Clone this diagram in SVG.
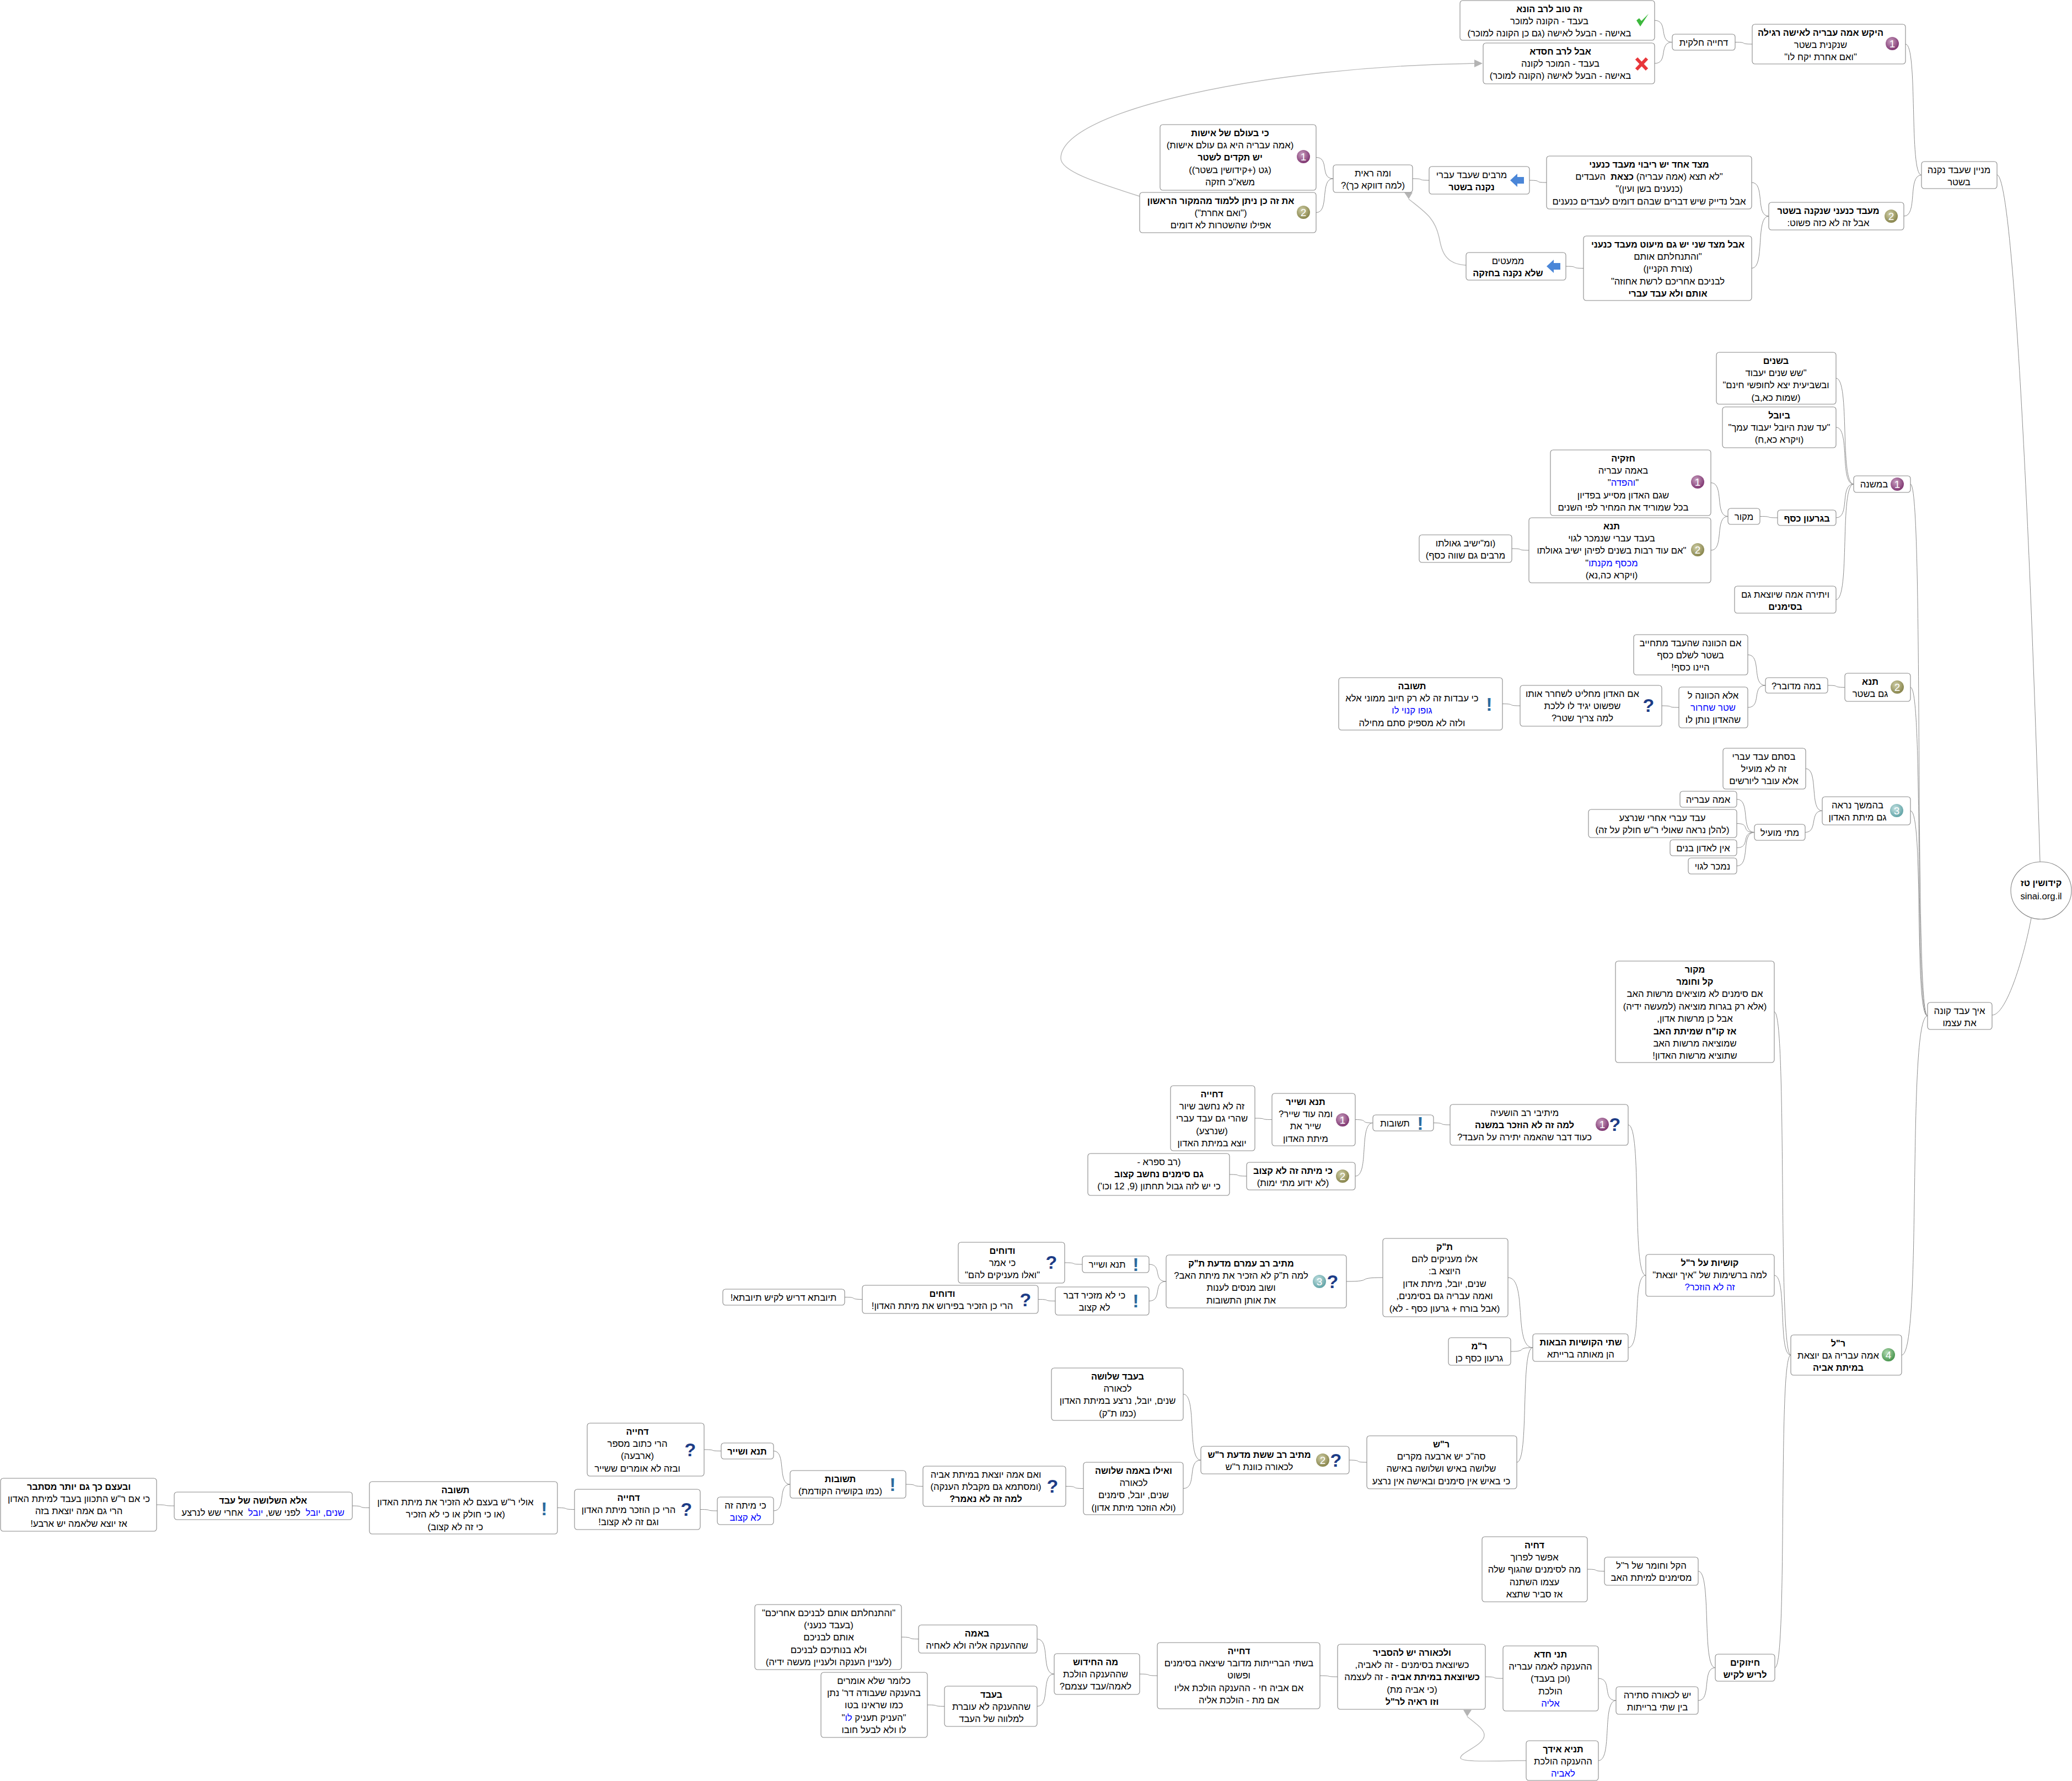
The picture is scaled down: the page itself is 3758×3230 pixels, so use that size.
<svg xmlns="http://www.w3.org/2000/svg" width="3758" height="3230" viewBox="0 0 3758 3230">
<style>
text{font-family:"Liberation Sans",Arial,sans-serif;font-size:16.7px;direction:rtl;unicode-bidi:embed;text-anchor:middle;fill:#000}
.b{font-weight:700;font-size:16.3px}
.l{fill:#00f}
rect{fill:#fff;stroke:#888;stroke-width:1.1}
#connectors path{fill:none;stroke:#8c8c8c;stroke-width:1}
#connectors path.x{stroke:#b8b8b8;stroke-width:1.4}
#connectors polygon{fill:#b4b4b4}
.q{font-size:34px;font-weight:700;fill:#1d3c86}
.e{font-size:34px;font-weight:700;fill:#2c6b9e}
.n{font-size:19px;fill:#fff;direction:ltr}
.ar{fill:#4a86d8}
</style>
<defs>
<radialGradient id="g1" cx=".4" cy=".35" r=".7"><stop offset="0" stop-color="#c9a0c0"/><stop offset="1" stop-color="#7a2f6c"/></radialGradient>
<radialGradient id="g2" cx=".4" cy=".35" r=".7"><stop offset="0" stop-color="#d0cfa8"/><stop offset="1" stop-color="#827f45"/></radialGradient>
<radialGradient id="g3" cx=".4" cy=".35" r=".7"><stop offset="0" stop-color="#c5e2e2"/><stop offset="1" stop-color="#5a9fa2"/></radialGradient>
<radialGradient id="g4" cx=".4" cy=".35" r=".7"><stop offset="0" stop-color="#b5dcb5"/><stop offset="1" stop-color="#3f8f45"/></radialGradient>
</defs>
<rect x="0" y="0" width="3758" height="3230" style="fill:#fff;stroke:none"/>
<g id="connectors">
<path d="M3001 37C3026.6 37 3007.4 76.5 3033 76.5"/>
<path d="M3001 115C3026.6 115 3007.4 76.5 3033 76.5"/>
<path d="M3147 76.5C3172 76.5 3153 80 3178 80"/>
<path d="M3456 80C3479 80 3462 317.5 3485 317.5"/>
<path d="M3453 392C3479 392 3459 317.5 3485 317.5"/>
<path d="M3177 331C3202 331 3183 392 3208 392"/>
<path d="M3177 486.5C3202 486.5 3183 392 3208 392"/>
<path d="M2774 327C2799 327 2780 331 2805 331"/>
<path d="M2840 483C2866 483 2846 486.5 2872 486.5"/>
<path d="M2562 324C2586 324 2568 327 2592 327"/>
<path d="M2387 285.5C2412 285.5 2393 324 2418 324"/>
<path d="M2387 385.5C2412 385.5 2393 324 2418 324"/>
<path d="M3622 317C3650 320 3680 900 3700 1563"/>
<path d="M3613 1841C3640 1841 3672 1730 3684 1665"/>
<path d="M3465 878C3490 878 3471 1842.5 3496 1842.5"/>
<path d="M3465 1246.5C3490 1246.5 3471 1842.5 3496 1842.5"/>
<path d="M3465 1470.5C3490 1470.5 3471 1842.5 3496 1842.5"/>
<path d="M3449 2457.5C3487 2457.5 3458 1842.5 3496 1842.5"/>
<path d="M3330 686C3356 686 3336 878 3362 878"/>
<path d="M3330 775C3356 775 3336 878 3362 878"/>
<path d="M3330 939C3356 939 3336 878 3362 878"/>
<path d="M3330 1087.5C3356 1087.5 3336 878 3362 878"/>
<path d="M3192 936.5C3218 936.5 3198 939 3224 939"/>
<path d="M3103 875.5C3128 875.5 3109 936.5 3134 936.5"/>
<path d="M3103 998C3128 998 3109 936.5 3134 936.5"/>
<path d="M2742 995C2767 995 2748 998 2773 998"/>
<path d="M3315 1243C3340 1243 3321 1246.5 3346 1246.5"/>
<path d="M3170 1187.5C3196 1187.5 3176 1243 3202 1243"/>
<path d="M3170 1283C3196 1283 3176 1243 3202 1243"/>
<path d="M3014 1280C3039 1280 3020 1283 3045 1283"/>
<path d="M2725 1276.5C2751 1276.5 2731 1280 2757 1280"/>
<path d="M3275 1394C3299 1394 3281 1470.5 3305 1470.5"/>
<path d="M3274 1509.5C3298 1509.5 3281 1470.5 3305 1470.5"/>
<path d="M3150 1449.5C3176 1449.5 3156 1509.5 3182 1509.5"/>
<path d="M3150 1493.5C3176 1493.5 3156 1509.5 3182 1509.5"/>
<path d="M3150 1537.5C3176 1537.5 3156 1509.5 3182 1509.5"/>
<path d="M3150 1570.5C3176 1570.5 3156 1509.5 3182 1509.5"/>
<path d="M3218 1835C3242 1835 3224 2457.5 3248 2457.5"/>
<path d="M3218 2313C3242 2313 3224 2457.5 3248 2457.5"/>
<path d="M3219 3024.5C3243 3024.5 3224 2457.5 3248 2457.5"/>
<path d="M2953 2040C2979 2040 2959 2313 2985 2313"/>
<path d="M2953 2444C2979 2444 2959 2313 2985 2313"/>
<path d="M2600 2036.5C2624 2036.5 2606 2040 2630 2040"/>
<path d="M2458 2030.5C2484 2030.5 2464 2036.5 2490 2036.5"/>
<path d="M2458 2133C2484 2133 2464 2036.5 2490 2036.5"/>
<path d="M2276 2028C2301 2028 2282 2030.5 2307 2030.5"/>
<path d="M2230 2130C2255 2130 2236 2133 2261 2133"/>
<path d="M2735 2317C2771 2317 2744 2444 2780 2444"/>
<path d="M2740 2451C2772 2451 2748 2444 2780 2444"/>
<path d="M2751 2652C2774 2652 2757 2444 2780 2444"/>
<path d="M2442 2324C2495 2324 2455 2317 2508 2317"/>
<path d="M2084 2293C2109 2293 2090 2324 2115 2324"/>
<path d="M2084 2359.5C2109 2359.5 2090 2324 2115 2324"/>
<path d="M1931 2290C1957 2290 1937 2293 1963 2293"/>
<path d="M1883 2356.5C1908 2356.5 1889 2359.5 1914 2359.5"/>
<path d="M1532 2352.5C1558 2352.5 1538 2356.5 1564 2356.5"/>
<path d="M2447 2648C2473 2648 2453 2652 2479 2652"/>
<path d="M2146 2528.5C2172 2528.5 2152 2648 2178 2648"/>
<path d="M2146 2699.5C2172 2699.5 2152 2648 2178 2648"/>
<path d="M1933 2695.5C1959 2695.5 1939 2699.5 1965 2699.5"/>
<path d="M1643 2692C1668 2692 1649 2695.5 1674 2695.5"/>
<path d="M1403 2631.5C1427 2631.5 1409 2692 1433 2692"/>
<path d="M1403 2740C1427 2740 1409 2692 1433 2692"/>
<path d="M1277 2629C1302 2629 1283 2631.5 1308 2631.5"/>
<path d="M1270 2737.5C1295 2737.5 1276 2740 1301 2740"/>
<path d="M1011 2734.5C1036 2734.5 1017 2737.5 1042 2737.5"/>
<path d="M639 2731C664 2731 645 2734.5 670 2734.5"/>
<path d="M284 2729C310 2729 290 2731 316 2731"/>
<path d="M3080 2849.5C3105 2849.5 3086 3024.5 3111 3024.5"/>
<path d="M3080 3084C3105 3084 3086 3024.5 3111 3024.5"/>
<path d="M2879 2846C2904 2846 2885 2849.5 2910 2849.5"/>
<path d="M2899 3044C2925 3044 2905 3084 2931 3084"/>
<path d="M2899 3193C2925 3193 2905 3084 2931 3084"/>
<path d="M2694 3041C2720 3041 2700 3044 2726 3044"/>
<path d="M2394 3039C2420 3039 2400 3041 2426 3041"/>
<path d="M2067 3036C2093 3036 2073 3039 2099 3039"/>
<path d="M1881 2972.5C1906 2972.5 1887 3036 1912 3036"/>
<path d="M1881 3094.5C1906 3094.5 1887 3036 1912 3036"/>
<path d="M1635 2969C1660 2969 1641 2972.5 1666 2972.5"/>
<path d="M1682 3092C1707 3092 1688 3094.5 1713 3094.5"/>
<path class="x" d="M2067 356C1985 330 1924 310 1924 287C1924 200 2300 120 2676 115"/>
<polygon points="2674,108 2689,115 2674,122"/>
<path class="x" d="M2659 481C2620 479 2615 455 2610 430C2602 395 2585 385 2555 361"/>
<polygon points="2547,349 2562,349 2555,361"/>
<path class="x" d="M2768 3193C2720 3193 2649 3197 2649 3188C2649 3178 2692 3165 2692 3147C2692 3135 2675 3125 2661 3113"/>
<polygon points="2654,3101 2669,3101 2661,3113"/>
</g>

<g id="root"><ellipse cx="3702" cy="1615" rx="55" ry="52" style="fill:#fff;stroke:#888;stroke-width:1.1"/><text class="b" x="3702" y="1607">קידושין טז</text><text x="3702" y="1631">sinai.org.il</text></g>

<g id="a1" transform="translate(2648,1)"><rect width="353" height="72" rx="5"/><path d="M320 36L327 47L342 24L329 37L325 32Z" fill="#3cb83c"/><text class="b" x="162" y="20.5">זה טוב לרב הונא</text><text x="162" y="43">בעבד - הקונה למוכר</text><text x="162" y="65.3">באישה - הבעל לאישה (גם כן הקונה למוכר)</text></g>
<g id="a2" transform="translate(2690,78)"><rect width="311" height="74" rx="5"/><path d="M278 28L297 48M297 28L278 48" fill="none" stroke="#e8363a" stroke-width="6"/><text class="b" x="140" y="20.5">אבל לרב חסדא</text><text x="140" y="43">בעבד - המוכר לקונה</text><text x="140" y="65.3">באישה - הבעל לאישה (הקונה למוכר)</text></g>
<g id="a3" transform="translate(3033,62)"><rect width="114" height="29" rx="5"/><text x="57" y="21">דחייה חלקית</text></g>
<g id="a4" transform="translate(3178,44)"><rect width="278" height="72" rx="5"/><circle cx="254" cy="35" r="12" fill="url(#g1)"/><text class="n" x="254" y="42">1</text><text class="b" x="124" y="20.5">היקש אמה עבריה לאישה רגילה</text><text x="124" y="43">שנקנית בשטר</text><text x="124" y="65.3">"ואם אחרת יקח לו"</text></g>
<g id="a5" transform="translate(3208,367)"><rect width="245" height="50" rx="5"/><circle cx="222" cy="25" r="12" fill="url(#g2)"/><text class="n" x="222" y="32">2</text><text class="b" x="108" y="20.5">מעבד כנעני שנקנה בשטר</text><text x="108" y="43">אבל זה לא כזה פשוט:</text></g>
<g id="a6" transform="translate(2805,283)"><rect width="372" height="96" rx="5"/><text class="b" x="186" y="20.5">מצד אחד יש ריבוי מעבד כנעני</text><text x="186" y="43">"לא תצא (אמה עבריה) <tspan class="b">כצאת</tspan>&#160; העבדים</text><text x="186" y="65.3">(כנענים בשן ועין)"</text><text x="186" y="87.7">אבל נדייק שיש דברים שבהם דומים לעבדים כנענים</text></g>
<g id="a7" transform="translate(2592,302)"><rect width="182" height="50" rx="5"/><path class="ar" d="M147 25L160 13V19H172V31H160V37Z"/><text x="77" y="20.5">מרבים שעבד עברי</text><text class="b" x="77" y="43">נקנה בשטר</text></g>
<g id="a8" transform="translate(2872,428)"><rect width="305" height="117" rx="5"/><text class="b" x="153" y="20.5">אבל מצד שני יש גם מיעוט מעבד כנעני</text><text x="153" y="43">"והתנחלתם אותם</text><text x="153" y="65.3">(צורת הקניין)</text><text x="153" y="87.7">לבניכם אחריכם לרשת אחוזה"</text><text class="b" x="153" y="110">אותם ולא עבד עברי</text></g>
<g id="a9" transform="translate(2659,458)"><rect width="181" height="50" rx="5"/><path class="ar" d="M146 25L159 13V19H171V31H159V37Z"/><text x="76" y="20.5">ממעטים</text><text class="b" x="76" y="43">שלא נקנה בחזקה</text></g>
<g id="a10" transform="translate(2418,299)"><rect width="144" height="50" rx="5"/><text x="72" y="20.5">ומה ראית</text><text x="72" y="43">(למה דווקא כך)?</text></g>
<g id="a11" transform="translate(2104,226)"><rect width="283" height="119" rx="5"/><circle cx="260" cy="58" r="12" fill="url(#g1)"/><text class="n" x="260" y="65">1</text><text class="b" x="127" y="20.5">כי בעולם של אישות</text><text x="127" y="43">(אמה עבריה היא גם עולם אישות)</text><text class="b" x="127" y="65.3">יש תקדים לשטר</text><text x="127" y="87.7">(גט (+קידושין בשטר))</text><text x="127" y="110">משא"כ חזקה</text></g>
<g id="a12" transform="translate(2067,349)"><rect width="320" height="73" rx="5"/><circle cx="297" cy="36" r="12" fill="url(#g2)"/><text class="n" x="297" y="43">2</text><text class="b" x="147" y="20.5">את זה כן ניתן ללמוד מהמקור הראשון</text><text x="147" y="43">("ואם אחרת")</text><text x="147" y="65.3">אפילו שהשטרות לא דומים</text></g>
<g id="n2" transform="translate(3485,293)"><rect width="137" height="49" rx="5"/><text x="68" y="20.5">מניין שעבד נקנה</text><text x="68" y="43">בשטר</text></g>

<g id="b1" transform="translate(3362,863)"><rect width="103" height="30" rx="5"/><circle cx="79" cy="15" r="12" fill="url(#g1)"/><text class="n" x="79" y="22">1</text><text x="37" y="21">במשנה</text></g>
<g id="b2" transform="translate(3113,639)"><rect width="217" height="94" rx="5"/><text class="b" x="108" y="20.5">בשנים</text><text x="108" y="43">"שש שנים יעבוד</text><text x="108" y="65.3">ובשביעית יצא לחופשי חינם"</text><text x="108" y="87.7">(שמות כא,ב)</text></g>
<g id="b3" transform="translate(3124,738)"><rect width="206" height="74" rx="5"/><text class="b" x="103" y="20.5">ביובל</text><text x="103" y="43">"עד שנת היובל יעבוד עמך"</text><text x="103" y="65.3">(ויקרא כא,ח)</text></g>
<g id="b4" transform="translate(3224,925)"><rect width="106" height="28" rx="5"/><text class="b" x="53" y="20.5">בגרעון כסף</text></g>
<g id="b5" transform="translate(3134,922)"><rect width="58" height="29" rx="5"/><text x="29" y="21">מקור</text></g>
<g id="b6" transform="translate(2812,816)"><rect width="291" height="119" rx="5"/><circle cx="267" cy="58" r="12" fill="url(#g1)"/><text class="n" x="267" y="65">1</text><text class="b" x="132" y="20.5">חזקיה</text><text x="132" y="43">באמה עבריה</text><text x="132" y="65.3">"<tspan class="l">והפדה</tspan>"</text><text x="132" y="87.7">שגם האדון מסייע בפדיון</text><text x="132" y="110">בכל שמוריד את המחיר לפי השנים</text></g>
<g id="b7" transform="translate(2773,939)"><rect width="330" height="118" rx="5"/><circle cx="306" cy="58" r="12" fill="url(#g2)"/><text class="n" x="306" y="65">2</text><text class="b" x="150" y="20.5">תנא</text><text x="150" y="43">בעבד עברי שנמכר לגוי</text><text x="150" y="65.3">"אם עוד רבות בשנים לפיהן ישיב גאולתו</text><text x="150" y="87.7"><tspan class="l">מכסף מקנתו</tspan>"</text><text x="150" y="110">(ויקרא כה,נא)</text></g>
<g id="b8" transform="translate(2574,970)"><rect width="168" height="50" rx="5"/><text x="84" y="20.5">(ומ"ישיב גאולתו</text><text x="84" y="43">מרבים גם שווה כסף)</text></g>
<g id="b9" transform="translate(3146,1063)"><rect width="184" height="49" rx="5"/><text x="92" y="20.5">ויתירה אמה שיוצאת גם</text><text class="b" x="92" y="43">בסימנים</text></g>

<g id="c1" transform="translate(2963,1151)"><rect width="207" height="73" rx="5"/><text x="103" y="20.5">אם הכוונה שהעבד מתחייב</text><text x="103" y="43">בשטר לשלם כסף</text><text x="103" y="65.3">היינו כסף!</text></g>
<g id="c2" transform="translate(3202,1229)"><rect width="113" height="28" rx="5"/><text x="56" y="20.5">במה מדובר?</text></g>
<g id="c3" transform="translate(3346,1221)"><rect width="119" height="51" rx="5"/><circle cx="95" cy="25" r="12" fill="url(#g2)"/><text class="n" x="95" y="32">2</text><text class="b" x="46" y="20.5">תנא</text><text x="46" y="43">גם בשטר</text></g>
<g id="c4" transform="translate(3045,1246)"><rect width="125" height="74" rx="5"/><text x="62" y="20.5">אלא הכוונה ל</text><text class="l" x="62" y="43">שטר שחרור</text><text x="62" y="65.3">שהאדון נותן לו</text></g>
<g id="c5" transform="translate(2757,1243)"><rect width="257" height="74" rx="5"/><text class="q" x="233" y="48">?</text><text x="113" y="20.5">אם האדון מחליט לשחרר אותו</text><text x="113" y="43">שפשוט יגיד לו ללכת</text><text x="113" y="65.3">למה צריך שטר?</text></g>
<g id="c6" transform="translate(2428,1229)"><rect width="297" height="95" rx="5"/><text class="e" x="273" y="60">!</text><text class="b" x="133" y="20.5">תשובה</text><text x="133" y="43">כי עבדות זה לא רק חיוב ממוני אלא</text><text class="l" x="133" y="65.3">גופו קנוי לו</text><text x="133" y="87.7">ולזה לא מספיק סתם מחילה</text></g>
<g id="d1" transform="translate(3125,1357)"><rect width="150" height="74" rx="5"/><text x="74" y="20.5">בסתם עבד עברי</text><text x="74" y="43">זה לא מועיל</text><text x="74" y="65.3">אלא עובר ליורשים</text></g>
<g id="d2" transform="translate(3305,1445)"><rect width="160" height="51" rx="5"/><circle cx="135" cy="25" r="12" fill="url(#g3)"/><text class="n" x="135" y="32">3</text><text x="64" y="20.5">בהמשך נראה</text><text x="64" y="43">גם מיתת האדון</text></g>
<g id="d3" transform="translate(3182,1495)"><rect width="92" height="29" rx="5"/><text x="46" y="21">מתי מועיל</text></g>
<g id="d4" transform="translate(3047,1435)"><rect width="103" height="29" rx="5"/><text x="51" y="21">אמה עבריה</text></g>
<g id="d5" transform="translate(2881,1468)"><rect width="269" height="51" rx="5"/><text x="134" y="20.5">עבד עברי אחרי שנרצע</text><text x="134" y="43">(להלן נראה שאולי ר"ש חולק על זה)</text></g>
<g id="d6" transform="translate(3029,1523)"><rect width="121" height="29" rx="5"/><text x="60" y="21">אין לאדון בנים</text></g>
<g id="d7" transform="translate(3062,1556)"><rect width="88" height="29" rx="5"/><text x="44" y="21">נמכר לגוי</text></g>

<g id="e1" transform="translate(2930,1743)"><rect width="288" height="184" rx="5"/><text class="b" x="144" y="20.5">מקור</text><text class="b" x="144" y="43">קל וחומר</text><text x="144" y="65.3">אם סימנים לא מוציאים מרשות האב</text><text x="144" y="87.7">(אלא רק בגרות מוציאה (למעשה ידיה)</text><text x="144" y="110">אבל כן מרשות אדון,</text><text class="b" x="144" y="132.5">אז קו"ח שמיתת האב</text><text x="144" y="155">שמוציאה מרשות האב</text><text x="144" y="177.3">שתוציא מרשות האדון!</text></g>
<g id="e2" transform="translate(3496,1818)"><rect width="117" height="49" rx="5"/><text x="58" y="20.5">איך עבד קונה</text><text x="58" y="43">את עצמו</text></g>
<g id="e3" transform="translate(2985,2275)"><rect width="233" height="76" rx="5"/><text class="b" x="116" y="20.5">קושיות על ר"ל</text><text x="116" y="43">למה ברשימות של "איך יוצאת"</text><text class="l" x="116" y="65.3">זה לא הוזכר?</text></g>
<g id="e4" transform="translate(3248,2421)"><rect width="201" height="73" rx="5"/><circle cx="177" cy="36" r="12" fill="url(#g4)"/><text class="n" x="177" y="43">4</text><text class="b" x="86" y="20.5">ר"ל</text><text x="86" y="43">אמה עבריה גם יוצאת</text><text class="b" x="86" y="65.3">במיתת אביה</text></g>

<g id="f1" transform="translate(2630,2003)"><rect width="323" height="74" rx="5"/><circle cx="276" cy="36" r="12" fill="url(#g1)"/><text class="n" x="276" y="43">1</text><text class="q" x="299" y="48">?</text><text x="135" y="20.5">מיתיבי רב הושעיה</text><text class="b" x="135" y="43">למה זה לא הוזכר במשנה</text><text x="135" y="65.3">כעוד דבר שהאמה יתירה על העבד?</text></g>
<g id="f2" transform="translate(2490,2022)"><rect width="110" height="29" rx="5"/><text class="e" x="86" y="27">!</text><text x="40" y="21">תשובות</text></g>
<g id="f3" transform="translate(2307,1983)"><rect width="151" height="95" rx="5"/><circle cx="128" cy="48" r="12" fill="url(#g1)"/><text class="n" x="128" y="55">1</text><text class="b" x="61" y="20.5">תנא ושייר</text><text x="61" y="43">ומה עוד שייר?</text><text x="61" y="65.3">שייר את</text><text x="61" y="87.7">מיתת האדון</text></g>
<g id="f4" transform="translate(2123,1969)"><rect width="153" height="118" rx="5"/><text class="b" x="75" y="20.5">דחייה</text><text x="75" y="43">זה לא נחשב שיור</text><text x="75" y="65.3">שהרי גם עבד עברי</text><text x="75" y="87.7">(שנרצע)</text><text x="75" y="110">יוצא במיתת האדון</text></g>
<g id="f5" transform="translate(2261,2108)"><rect width="197" height="50" rx="5"/><circle cx="174" cy="25" r="12" fill="url(#g2)"/><text class="n" x="174" y="32">2</text><text class="b" x="84" y="20.5">כי מיתה זה לא קצוב</text><text x="84" y="43">(לא ידוע מתי ימות)</text></g>
<g id="f6" transform="translate(1973,2092)"><rect width="257" height="76" rx="5"/><text x="129" y="20.5">(רב ספרא -</text><text class="b" x="129" y="43">גם סימנים נחשב קצוב</text><text x="129" y="65.3">כי יש לזה גבול תחתון (9, 12 וכו')</text></g>

<g id="g1n" transform="translate(2508,2246)"><rect width="227" height="142" rx="5"/><text class="b" x="112" y="20.5">ת"ק</text><text x="112" y="43">אלו מעניקים להם</text><text x="112" y="65.3">היוצא ב:</text><text x="112" y="87.7">שנים, יובל, מיתת אדון</text><text x="112" y="110">ואמה עבריה גם בסימנים,</text><text x="112" y="132.5">(אבל בורח + גרעון כסף - לא)</text></g>
<g id="g2n" transform="translate(2115,2276)"><rect width="327" height="96" rx="5"/><circle cx="278" cy="48" r="12" fill="url(#g3)"/><text class="n" x="278" y="55">3</text><text class="q" x="302" y="60">?</text><text class="b" x="136" y="20.5">מתיב רב עמרם מדעת ת"ק</text><text x="136" y="43">למה ת"ק לא הזכיר את מיתת האב?</text><text x="136" y="65.3">ושוב מנסים לענות</text><text x="136" y="87.7">את אותן התשובות</text></g>
<g id="g3n" transform="translate(1963,2278)"><rect width="121" height="30" rx="5"/><text class="e" x="97" y="27">!</text><text x="45" y="21">תנא ושייר</text></g>
<g id="g4n" transform="translate(1914,2334)"><rect width="170" height="51" rx="5"/><text class="e" x="146" y="37">!</text><text x="71" y="20.5">כי לא מזכיר דבר</text><text x="71" y="43">לא קצוב</text></g>
<g id="g5n" transform="translate(1738,2253)"><rect width="193" height="74" rx="5"/><text class="q" x="169" y="48">?</text><text class="b" x="80" y="20.5">ודוחים</text><text x="80" y="43">כי אמר</text><text x="80" y="65.3">"ואלו מעניקים להם"</text></g>
<g id="g6n" transform="translate(1564,2331)"><rect width="319" height="51" rx="5"/><text class="q" x="296" y="38">?</text><text class="b" x="145" y="20.5">ודוחים</text><text x="145" y="43">הרי כן הזכיר בפירוש את מיתת האדון!</text></g>
<g id="g7n" transform="translate(1311,2338)"><rect width="221" height="29" rx="5"/><text x="110" y="21">תיובתא דריש לקיש תיובתא!</text></g>

<g id="h1" transform="translate(2780,2419)"><rect width="173" height="50" rx="5"/><text class="b" x="87" y="20.5">שתי הקושיות הבאות</text><text x="87" y="43">הן מאותה ברייתא</text></g>
<g id="h2" transform="translate(2627,2426)"><rect width="113" height="50" rx="5"/><text class="b" x="56" y="20.5">ר"מ</text><text x="56" y="43">גרעון כסף כן</text></g>
<g id="h3" transform="translate(2479,2604)"><rect width="272" height="96" rx="5"/><text class="b" x="135" y="20.5">ר"ש</text><text x="135" y="43">סה"כ יש ארבעה מקרים</text><text x="135" y="65.3">שלושה באיש ושלושה באישה</text><text x="135" y="87.7">כי באיש אין סימנים ובאישה אין נרצע</text></g>
<g id="h4" transform="translate(2178,2623)"><rect width="269" height="50" rx="5"/><circle cx="221" cy="25" r="12" fill="url(#g2)"/><text class="n" x="221" y="32">2</text><text class="q" x="245" y="37">?</text><text class="b" x="106" y="20.5">מתיב רב ששת מדעת ר"ש</text><text x="106" y="43">לכאורה כוונת ר"ש</text></g>
<g id="h5" transform="translate(1907,2481)"><rect width="239" height="95" rx="5"/><text class="b" x="120" y="20.5">בעבד שלושה</text><text x="120" y="43">לכאורה</text><text x="120" y="65.3">שנים, יובל, נרצע במיתת האדון</text><text x="120" y="87.7">(כמו ת"ק)</text></g>
<g id="h6" transform="translate(1965,2652)"><rect width="181" height="95" rx="5"/><text class="b" x="91" y="20.5">ואילו באמה שלושה</text><text x="91" y="43">לכאורה</text><text x="91" y="65.3">שנים, יובל, סימנים</text><text x="91" y="87.7">(ולא הוזכר מיתת אדון)</text></g>
<g id="h7" transform="translate(1674,2659)"><rect width="259" height="73" rx="5"/><text class="q" x="235" y="48">?</text><text x="114" y="20.5">ואם אמה יוצאת במיתת אביה</text><text x="114" y="43">(ומסתמא גם מקבלת הענקה)</text><text class="b" x="114" y="65.3">למה זה לא נאמר?</text></g>
<g id="h8" transform="translate(1433,2667)"><rect width="210" height="50" rx="5"/><text class="e" x="186" y="37">!</text><text class="b" x="91" y="20.5">תשובות</text><text x="91" y="43">(כמו בקושיה הקודמת)</text></g>
<g id="h9" transform="translate(1308,2617)"><rect width="95" height="29" rx="5"/><text class="b" x="47" y="21">תנא ושייר</text></g>
<g id="h10" transform="translate(1065,2581)"><rect width="212" height="96" rx="5"/><text class="q" x="187" y="60">?</text><text class="b" x="91" y="20.5">דחייה</text><text x="91" y="43">הרי כתוב מספר</text><text x="91" y="65.3">(ארבעה)</text><text x="91" y="87.7">ובזה לא אומרים ששייר</text></g>
<g id="h11" transform="translate(1301,2715)"><rect width="102" height="50" rx="5"/><text x="51" y="20.5">כי מיתה זה</text><text class="l" x="51" y="43">לא קצוב</text></g>
<g id="h12" transform="translate(1042,2701)"><rect width="228" height="73" rx="5"/><text class="q" x="203" y="48">?</text><text class="b" x="98" y="20.5">דחייה</text><text x="98" y="43">הרי כן הוזכר מיתת האדון</text><text x="98" y="65.3">וגם זה לא קצוב!</text></g>
<g id="h13" transform="translate(670,2687)"><rect width="341" height="95" rx="5"/><text class="e" x="317" y="61">!</text><text class="b" x="156" y="20.5">תשובה</text><text x="156" y="43">אולי ר"ש בעצם לא הזכיר את מיתת האדון</text><text x="156" y="65.3">(או כי חולק או כי לא הזכיר</text><text x="156" y="87.7">כי זה לא קצוב)</text></g>
<g id="h14" transform="translate(316,2706)"><rect width="323" height="50" rx="5"/><text class="b" x="161" y="20.5">אלא השלושה של עבד</text><text x="161" y="43"><tspan class="l">שנים, יובל</tspan>&#160; לפני שש, <tspan class="l">יובל</tspan>&#160; אחרי שש לנרצע</text></g>
<g id="h15" transform="translate(1,2681)"><rect width="283" height="96" rx="5"/><text class="b" x="142" y="20.5">ובעצם כך גם יותר מסתבר</text><text x="142" y="43">כי אם ר"ש התכוון בעבד למיתת האדון</text><text x="142" y="65.3">הרי גם אמה יוצאת בזה</text><text x="142" y="87.7">אז יוצא שלאמה יש ארבע!</text></g>

<g id="i1" transform="translate(2688,2787)"><rect width="191" height="118" rx="5"/><text class="b" x="95" y="20.5">דחיה</text><text x="95" y="43">אפשר לפרוך</text><text x="95" y="65.3">מה לסימנים שהגוף שלה</text><text x="95" y="87.7">עצמו השתנה</text><text x="95" y="110">אז סביר שתצא</text></g>
<g id="i2" transform="translate(2910,2824)"><rect width="170" height="51" rx="5"/><text x="85" y="20.5">הקל וחומר של ר"ל</text><text x="85" y="43">מסימנים למיתת האב</text></g>
<g id="i3" transform="translate(3111,3000)"><rect width="108" height="49" rx="5"/><text class="b" x="54" y="20.5">חיזוקים</text><text class="b" x="54" y="43">לריש לקיש</text></g>
<g id="i4" transform="translate(2426,2982)"><rect width="268" height="118" rx="5"/><text class="b" x="135" y="20.5">ולכאורה יש להסביר</text><text x="135" y="43">כשיוצאת בסימנים - זה לאביה,</text><text x="135" y="65.3"><tspan class="b">כשיוצאת במיתת אביה</tspan> - זה לעצמה</text><text x="135" y="87.7">(כי אביה מת)</text><text class="b" x="135" y="110">וזו ראיה לר"ל</text></g>
<g id="i5" transform="translate(2726,2985)"><rect width="173" height="118" rx="5"/><text class="b" x="86" y="20.5">תני חדא</text><text x="86" y="43">ההענקה לאמה עבריה</text><text x="86" y="65.3">(וכן בעבד)</text><text x="86" y="87.7">הולכת</text><text class="l" x="86" y="110">אליה</text></g>
<g id="i6" transform="translate(2931,3059)"><rect width="149" height="50" rx="5"/><text x="75" y="20.5">יש לכאורה סתירה</text><text x="75" y="43">בין שתי ברייתות</text></g>
<g id="i7" transform="translate(2768,3157)"><rect width="131" height="72" rx="5"/><text class="b" x="67" y="20.5">תניא אידך</text><text x="67" y="43">ההענקה הולכת</text><text class="l" x="67" y="65.3">לאביה</text></g>
<g id="i8" transform="translate(2099,2979)"><rect width="295" height="120" rx="5"/><text class="b" x="148" y="20.5">דחייה</text><text x="148" y="43">בשתי הברייתות מדובר שיצאה בסימנים</text><text x="148" y="65.3">ופשוט</text><text x="148" y="87.7">אם אביה חי - ההענקה הולכת אליו</text><text x="148" y="110">אם מת - הולכת אליה</text></g>
<g id="i9" transform="translate(1912,2999)"><rect width="155" height="74" rx="5"/><text class="b" x="75" y="20.5">מה החידוש</text><text x="75" y="43">שההענקה הולכת</text><text x="75" y="65.3">לאמה/עבד עצמם?</text></g>
<g id="i10" transform="translate(1666,2947)"><rect width="215" height="51" rx="5"/><text class="b" x="106" y="20.5">באמה</text><text x="106" y="43">שההענקה אליה ולא לאחיה</text></g>
<g id="i11" transform="translate(1713,3058)"><rect width="168" height="73" rx="5"/><text class="b" x="85" y="20.5">בעבד</text><text x="85" y="43">שההענקה לא עוברת</text><text x="85" y="65.3">למלווה של העבד</text></g>
<g id="i12" transform="translate(1369,2910)"><rect width="266" height="118" rx="5"/><text x="134" y="20.5">"והתנחלתם אותם לבניכם אחריכם"</text><text x="134" y="43">(בעבד כנעני)</text><text x="134" y="65.3">אותם לבניכם</text><text x="134" y="87.7">ולא בנותיכם לבניכם</text><text x="134" y="110">(לעניין הענקה ולעניין מעשה ידיה)</text></g>
<g id="i13" transform="translate(1489,3033)"><rect width="193" height="118" rx="5"/><text x="96" y="20.5">כלומר שלא אומרים</text><text x="96" y="43">בהענקה שעבודה דר' נתן</text><text x="96" y="65.3">כמו שראינו בטו</text><text x="96" y="87.7">"העניק תעניק <tspan class="l">לו</tspan>"</text><text x="96" y="110">לו ולא לבעל חובו</text></g>
</svg>
